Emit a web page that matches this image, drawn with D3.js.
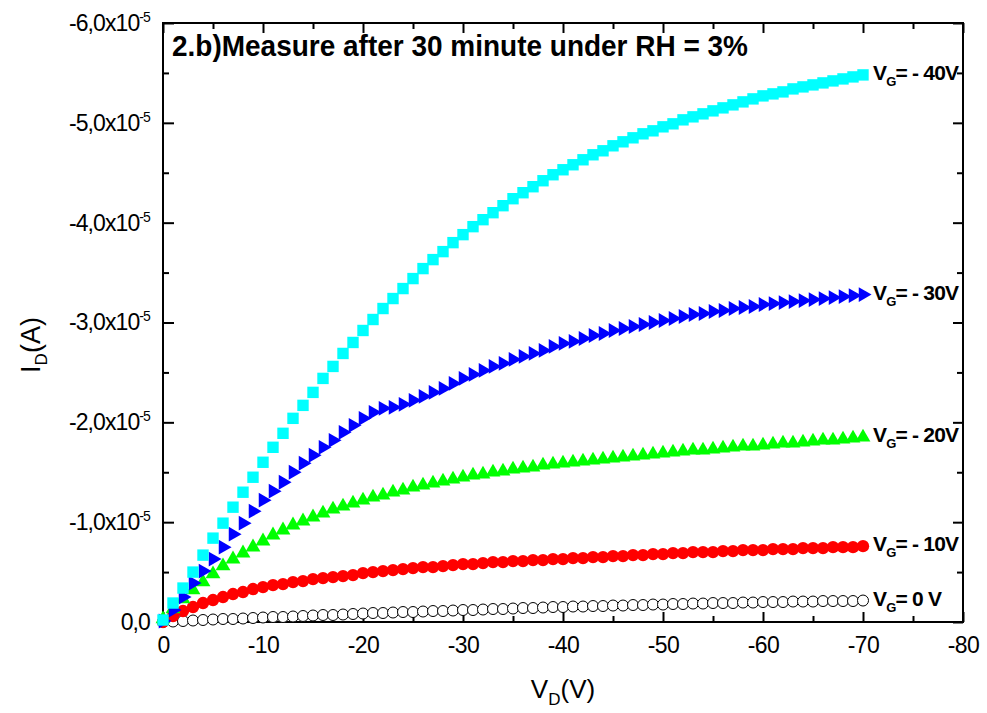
<!DOCTYPE html>
<html>
<head>
<meta charset="utf-8">
<script src="https://cdn.jsdelivr.net/npm/d3@7"></script>
<style>
  body { margin: 0; background: #fff; }
  svg { display: block; font-family: "Liberation Sans", Arial, sans-serif; }
</style>
</head>
<body>
<script>
var w = 987;
var h = 713;

// drain voltage (V)
var vd = [0, -1, -2, -3, -4, -5, -6, -7, -8, -9, -10, -11, -12, -13, -14, -15, -16, -17, -18, -19,
  -20, -21, -22, -23, -24, -25, -26, -27, -28, -29, -30, -31, -32, -33, -34, -35, -36, -37, -38, -39,
  -40, -41, -42, -43, -44, -45, -46, -47, -48, -49, -50, -51, -52, -53, -54, -55, -56, -57, -58, -59,
  -60, -61, -62, -63, -64, -65, -66, -67, -68, -69, -70];

// drain current, in units of 1e-5 A
var id_vg0 = [0, -0.005, -0.01, -0.015, -0.02, -0.025, -0.03, -0.03, -0.035, -0.04, -0.045, -0.05, -0.05, -0.055, -0.06, -0.065, -0.07, -0.07, -0.075, -0.08,
  -0.085, -0.09, -0.09, -0.095, -0.1, -0.1, -0.105, -0.11, -0.11, -0.115, -0.12, -0.12, -0.125, -0.13, -0.13, -0.135, -0.14, -0.14, -0.145, -0.15,
  -0.15, -0.155, -0.155, -0.16, -0.16, -0.165, -0.165, -0.17, -0.17, -0.175, -0.175, -0.18, -0.18, -0.185, -0.185, -0.19, -0.19, -0.19, -0.195, -0.195,
  -0.2, -0.2, -0.2, -0.205, -0.205, -0.205, -0.21, -0.21, -0.21, -0.21, -0.215];
var id_vg10 = [0, -0.06, -0.11, -0.15, -0.19, -0.22, -0.25, -0.28, -0.3, -0.33, -0.35, -0.37, -0.38, -0.4, -0.41, -0.43, -0.44, -0.45, -0.46, -0.47,
  -0.49, -0.5, -0.51, -0.52, -0.53, -0.54, -0.55, -0.55, -0.56, -0.57, -0.58, -0.58, -0.59, -0.6, -0.6, -0.61, -0.61, -0.62, -0.62, -0.63,
  -0.63, -0.64, -0.64, -0.65, -0.65, -0.66, -0.66, -0.67, -0.67, -0.68, -0.68, -0.69, -0.69, -0.7, -0.7, -0.7, -0.71, -0.71, -0.72, -0.72,
  -0.72, -0.73, -0.73, -0.73, -0.74, -0.74, -0.74, -0.75, -0.75, -0.75, -0.76];
var id_vg20 = [-0.03, -0.13, -0.23, -0.32, -0.4, -0.48, -0.56, -0.63, -0.69, -0.75, -0.81, -0.87, -0.92, -0.97, -1.01, -1.05, -1.09, -1.13, -1.16, -1.19,
  -1.22, -1.25, -1.27, -1.3, -1.32, -1.35, -1.37, -1.39, -1.41, -1.43, -1.45, -1.47, -1.48, -1.5, -1.51, -1.53, -1.54, -1.55, -1.57, -1.58,
  -1.59, -1.6, -1.61, -1.62, -1.63, -1.64, -1.65, -1.66, -1.67, -1.68, -1.69, -1.7, -1.71, -1.72, -1.72, -1.73, -1.74, -1.75, -1.76, -1.76,
  -1.77, -1.78, -1.79, -1.79, -1.8, -1.81, -1.82, -1.82, -1.83, -1.84, -1.85];
var id_vg30 = [-0.01, -0.12, -0.25, -0.39, -0.51, -0.63, -0.75, -0.88, -0.99, -1.11, -1.22, -1.31, -1.4, -1.5, -1.59, -1.67, -1.75, -1.82, -1.9, -1.97,
  -2.04, -2.1, -2.14, -2.15, -2.18, -2.22, -2.26, -2.3, -2.34, -2.39, -2.44, -2.48, -2.52, -2.56, -2.59, -2.63, -2.66, -2.69, -2.72, -2.76,
  -2.79, -2.81, -2.84, -2.87, -2.89, -2.92, -2.94, -2.96, -2.98, -3.0, -3.02, -3.04, -3.06, -3.08, -3.09, -3.11, -3.12, -3.14, -3.15, -3.16,
  -3.18, -3.19, -3.2, -3.21, -3.22, -3.23, -3.24, -3.25, -3.26, -3.27, -3.28];
var id_vg40 = [-0.02, -0.19, -0.34, -0.5, -0.67, -0.84, -0.99, -1.15, -1.3, -1.45, -1.6, -1.75, -1.89, -2.04, -2.17, -2.3, -2.44, -2.56, -2.69, -2.8,
  -2.92, -3.03, -3.14, -3.24, -3.34, -3.44, -3.54, -3.63, -3.71, -3.8, -3.88, -3.96, -4.03, -4.1, -4.17, -4.24, -4.3, -4.36, -4.42, -4.48,
  -4.53, -4.58, -4.63, -4.68, -4.72, -4.77, -4.81, -4.85, -4.89, -4.92, -4.96, -4.99, -5.03, -5.06, -5.09, -5.12, -5.15, -5.18, -5.21, -5.24,
  -5.27, -5.29, -5.31, -5.34, -5.36, -5.38, -5.4, -5.42, -5.44, -5.46, -5.48];

var seriesNames = ["0 V", "- 10V", "- 20V", "- 30V", "- 40V"];
var seriesValues = [id_vg0, id_vg10, id_vg20, id_vg30, id_vg40];

var xTicks = [0, -10, -20, -30, -40, -50, -60, -70, -80];
var xTickLabels = ["0", "-10", "-20", "-30", "-40", "-50", "-60", "-70", "-80"];
var xMinor = [-5, -15, -25, -35, -45, -55, -65, -75];
var yTicks = [0, -1, -2, -3, -4, -5, -6];
var yTickLabels = ["0,0", "-1,0x10", "-2,0x10", "-3,0x10", "-4,0x10", "-5,0x10", "-6,0x10"];
var yMinor = [-0.5, -1.5, -2.5, -3.5, -4.5, -5.5];

var title = "2.b)Measure after 30 minute under RH = 3%";

var plot = { left: 163, right: 963, top: 23, bottom: 622 };

var xScale = d3.scaleLinear().domain([0, -80]).range([plot.left, plot.right]);
var yScale = d3.scaleLinear().domain([0, -6]).range([plot.bottom, plot.top]);

var svg = d3.select("body").append("svg").attr("width", w).attr("height", h);
svg.append("rect").attr("width", w).attr("height", h).attr("fill", "#fff");

//Axes: inward ticks on all four sides
function styleAxis(g) {
  g.select(".domain").remove();
  g.selectAll(".tick line").attr("stroke", "#000").attr("stroke-width", 2);
}

svg.append("g")
  .attr("transform", "translate(0," + plot.bottom + ")")
  .call(d3.axisBottom(xScale).tickValues(xTicks).tickSizeInner(-10).tickSizeOuter(0).tickPadding(15)
    .tickFormat(function (d, i) { return xTickLabels[i]; }))
  .call(styleAxis)
  .selectAll("text")
  .attr("font-family", "'Liberation Sans', Arial, sans-serif")
  .attr("font-size", "23px")
  .attr("letter-spacing", "-0.6px")
  .attr("fill", "#000");

svg.append("g")
  .attr("transform", "translate(0," + plot.bottom + ")")
  .call(d3.axisBottom(xScale).tickValues(xMinor).tickSizeInner(-6).tickSizeOuter(0).tickFormat(""))
  .call(styleAxis);

svg.append("g")
  .attr("transform", "translate(0," + plot.top + ")")
  .call(d3.axisTop(xScale).tickValues(xTicks).tickSizeInner(-10).tickSizeOuter(0).tickFormat(""))
  .call(styleAxis);

svg.append("g")
  .attr("transform", "translate(0," + plot.top + ")")
  .call(d3.axisTop(xScale).tickValues(xMinor).tickSizeInner(-6).tickSizeOuter(0).tickFormat(""))
  .call(styleAxis);

var gY = svg.append("g")
  .attr("transform", "translate(" + plot.left + ",0)")
  .call(d3.axisLeft(yScale).tickValues(yTicks).tickSizeInner(-11).tickSizeOuter(0).tickPadding(13).tickFormat(""))
  .call(styleAxis);

gY.selectAll(".tick text")
  .attr("font-family", "'Liberation Sans', Arial, sans-serif")
  .attr("font-size", "23px")
  .attr("letter-spacing", "-0.9px")
  .attr("fill", "#000")
  .each(function (d, i) {
    var t = d3.select(this);
    t.append("tspan").text(yTickLabels[i]);
    if (d !== 0) {
      t.append("tspan").attr("font-size", "14px").attr("dy", "-9").text("-5");
    }
  });

svg.append("g")
  .attr("transform", "translate(" + plot.left + ",0)")
  .call(d3.axisLeft(yScale).tickValues(yMinor).tickSizeInner(-6).tickSizeOuter(0).tickFormat(""))
  .call(styleAxis);

svg.append("g")
  .attr("transform", "translate(" + plot.right + ",0)")
  .call(d3.axisRight(yScale).tickValues(yTicks).tickSizeInner(-10).tickSizeOuter(0).tickFormat(""))
  .call(styleAxis);

svg.append("g")
  .attr("transform", "translate(" + plot.right + ",0)")
  .call(d3.axisRight(yScale).tickValues(yMinor).tickSizeInner(-6).tickSizeOuter(0).tickFormat(""))
  .call(styleAxis);

//Frame
svg.append("rect")
  .attr("x", plot.left).attr("y", plot.top)
  .attr("width", plot.right - plot.left).attr("height", plot.bottom - plot.top)
  .attr("fill", "none").attr("stroke", "#000").attr("stroke-width", 2);

//Markers
var markerStyles = [
  { shape: d3.symbolCircle, size: 95, fill: "#fff", stroke: "#000", rotate: 0 },
  { shape: d3.symbolCircle, size: 120, fill: "#ff0000", stroke: "none", rotate: 0 },
  { shape: d3.symbolTriangle, size: 95, fill: "#00ff00", stroke: "none", rotate: 0 },
  { shape: d3.symbolTriangle, size: 95, fill: "#0000ff", stroke: "none", rotate: 90 },
  { shape: d3.symbolSquare, size: 130, fill: "#00ffff", stroke: "none", rotate: 0 }
];

seriesValues.forEach(function (vals, s) {
  var st = markerStyles[s];
  var pts = vd.map(function (v, i) { return { x: v, y: vals[i] }; });
  svg.append("g")
    .selectAll("path")
    .data(pts)
    .enter()
    .append("path")
    .attr("d", d3.symbol().type(st.shape).size(st.size))
    .attr("transform", function (d) {
      return "translate(" + xScale(d.x) + "," + yScale(d.y) + ") rotate(" + st.rotate + ")";
    })
    .attr("fill", st.fill)
    .attr("stroke", st.stroke)
    .attr("stroke-width", 1);
});

//Series labels
seriesValues.forEach(function (vals, s) {
  var last = vals.length - 1;
  var t = svg.append("text")
    .attr("x", xScale(vd[last]) + 10)
    .attr("y", yScale(vals[last]) + 5)
    .attr("font-family", "'Liberation Sans', Arial, sans-serif")
    .attr("font-weight", "bold")
    .attr("font-size", "21px")
    .attr("letter-spacing", "-0.8px")
    .attr("fill", "#000");
  t.append("tspan").text("V");
  t.append("tspan").attr("font-size", "13px").attr("dy", 6).text("G");
  t.append("tspan").attr("dy", -6).text("= " + seriesNames[s]);
});

//Title
svg.append("text")
  .attr("x", 172)
  .attr("y", 56)
  .attr("font-family", "'Liberation Sans', Arial, sans-serif")
  .attr("font-weight", "bold")
  .attr("font-size", "30px")
  .attr("textLength", 576)
  .attr("lengthAdjust", "spacingAndGlyphs")
  .attr("fill", "#000")
  .text(title);

//Axis titles
var xt = svg.append("text")
  .attr("x", xScale(-40))
  .attr("y", 698)
  .attr("text-anchor", "middle")
  .attr("font-size", "26px")
  .attr("fill", "#000");
xt.append("tspan").text("V");
xt.append("tspan").attr("font-size", "17px").attr("dy", 7).text("D");
xt.append("tspan").attr("dy", -7).text("(V)");

var yt = svg.append("text")
  .attr("transform", "translate(40," + 345 + ") rotate(-90)")
  .attr("text-anchor", "middle")
  .attr("font-size", "27px")
  .attr("fill", "#000");
yt.append("tspan").text("I");
yt.append("tspan").attr("font-size", "17px").attr("dy", 7).text("D");
yt.append("tspan").attr("dy", -7).text("(A)");
</script>
</body>
</html>
